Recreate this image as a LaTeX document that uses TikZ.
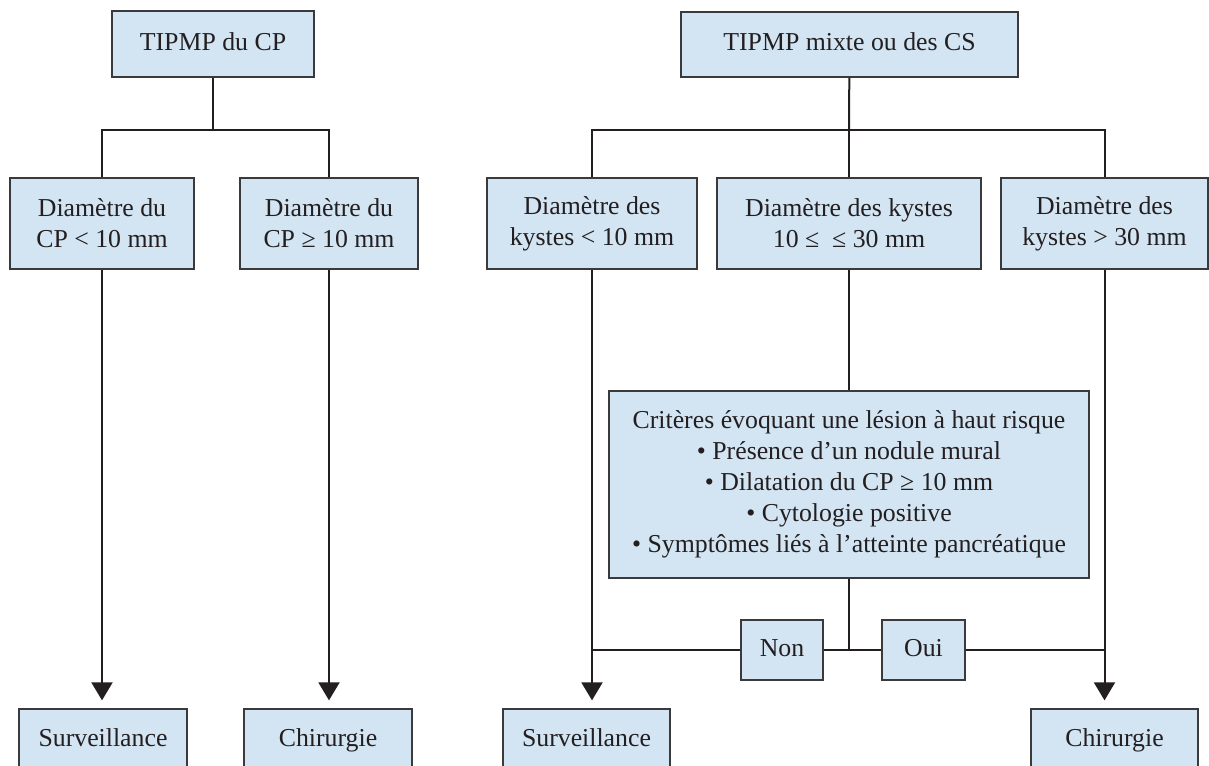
\documentclass[tikz,border=0pt]{standalone}
\usepackage{fontspec}
\setmainfont{Liberation Serif}
\usepackage{xcolor}
\usepackage{tikz}
\usetikzlibrary{arrows.meta,calc}
\definecolor{boxfill}{RGB}{211,228,243}
\definecolor{boxline}{RGB}{58,58,60}
\definecolor{linkcol}{RGB}{35,31,32}
\newcommand{\boxfont}{\fontsize{12.9}{15.5}\selectfont}
\tikzset{
  flowbox/.style = {draw=boxline, fill=boxfill, line width=0.65pt, inner sep=0pt,
                    align=center, font=\boxfont, text=linkcol},
  oneline/.style = {flowbox, text height=9pt, text depth=2.8pt},
  link/.style    = {draw=linkcol, line width=1pt},
  down/.style    = {link, -{Triangle[length=9pt,width=10.5pt]}, shorten >=4pt}
}

\begin{document}
\begin{tikzpicture}[x=0.5pt,y=-0.5pt]
  % page frame in pixel units (y downwards)
  \useasboundingbox (0,0) rectangle (1209,765);

  % left tree: canal principal
  \node[oneline, minimum width=101pt, minimum height=33pt] (cp) at (213,44) {TIPMP du CP};
  \node[flowbox, minimum width=92pt, minimum height=45.5pt] (d1) at (102,223.5) {Diamètre du\\CP < 10 mm};
  \node[flowbox, minimum width=89pt, minimum height=45.5pt] (d2) at (329,223.5) {Diamètre du\\CP ≥ 10 mm};
  \node[oneline, minimum width=84pt, minimum height=31pt] (s1) at (103,740) {Surveillance};
  \node[oneline, minimum width=84pt, minimum height=31pt] (c1) at (328,740) {Chirurgie};

  % right tree: mixte ou canaux secondaires
  \node[oneline, minimum width=168.5pt, minimum height=32.5pt] (mix) at (849.5,44.5) {TIPMP mixte ou des CS};
  \node[flowbox, minimum width=105pt, minimum height=45.5pt] (k1) at (592,223.5) {Diamètre des\\kystes < 10 mm};
  \node[flowbox, minimum width=132pt, minimum height=45.5pt] (k2) at (849,223.5) {Diamètre des kystes\\10 ≤ \ ≤ 30 mm};
  \node[flowbox, minimum width=103.5pt, minimum height=45.5pt] (k3) at (1104.5,223.5) {Diamètre des\\kystes > 30 mm};
  \node[flowbox, minimum width=240pt, minimum height=93.5pt] (crit) at (849,484.5)
    {Critères évoquant une lésion à haut risque\\
     • Présence d’un nodule mural\\
     • Dilatation du CP ≥ 10 mm\\
     • Cytologie positive\\
     • Symptômes liés à l’atteinte pancréatique};
  \node[oneline, minimum width=41pt, minimum height=30pt] (non) at (782,650) {Non};
  \node[oneline, minimum width=41.5pt, minimum height=30pt] (oui) at (923.5,650) {Oui};
  \node[oneline, minimum width=83.5pt, minimum height=31pt] (s2) at (586.5,740) {Surveillance};
  \node[oneline, minimum width=83.5pt, minimum height=31pt] (c2) at (1114.5,740) {Chirurgie};

  % junctions
  \coordinate (j1) at (213,130);
  \coordinate (j2) at (849,130);
  \coordinate (j3) at (crit.south |- non.east);

  % connectors, left
  \draw[link] (cp) -- (j1);
  \draw[link] (d1.north) |- (j1) -| (d2.north);
  \draw[down] (d1.south) -- (d1.south |- s1.north);
  \draw[down] (d2.south) -- (d2.south |- c1.north);

  % connectors, right
  \draw[link] (mix) -- (j2);
  \draw[link] (k1.north) |- (j2) -| (k3.north);
  \draw[link] (j2) -- (k2.north);
  \draw[link] (k2) -- (crit);
  \draw[link] (crit.south) -- (j3);
  \draw[link] (non.east) -- (oui.west);
  \draw[link] (non.west) -- (k1.south |- non.west);
  \draw[link] (oui.east) -- (k3.south |- oui.east);
  \draw[down] (k1.south) -- (k1.south |- s2.north);
  \draw[down] (k3.south) -- (k3.south |- c2.north);
\end{tikzpicture}
\end{document}
